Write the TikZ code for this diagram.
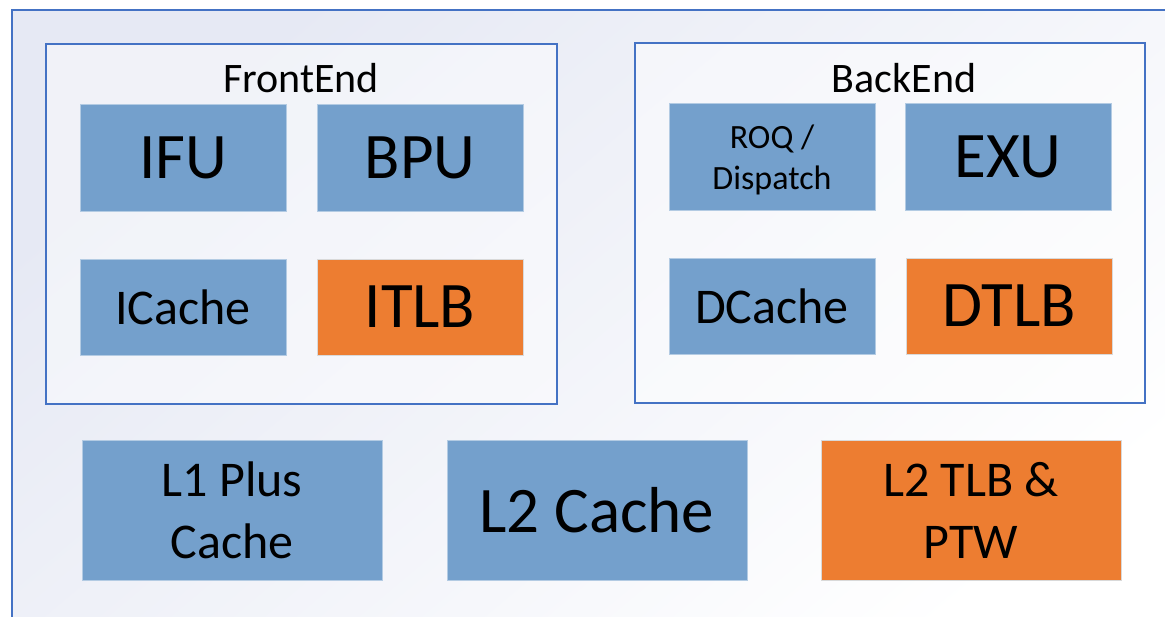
\documentclass[tikz,border=0pt]{standalone}
\usepackage{fontspec}
\setmainfont{Carlito}
\definecolor{unitblue}{HTML}{74A0CC}
\definecolor{unitorange}{HTML}{ED7D31}
\definecolor{frameblue}{HTML}{4472C4}
\definecolor{lav}{HTML}{E6E9F4}
\tikzset{
  unit/.style={rectangle, fill=unitblue, draw=unitblue!55!white, line width=0.6pt,
    inner sep=0pt, align=center, text=black},
  tlb/.style={unit, fill=unitorange, draw=black!15},
  bigtxt/.style={font=\fontsize{65}{78}\selectfont},
  midtxt/.style={font=\fontsize{50}{62}\selectfont},
  smalltxt/.style={font=\fontsize{34}{41}\selectfont},
  smallunit/.style={minimum width=206pt},
  group/.style={rectangle, draw=frameblue, line width=2.8pt, fill=white, fill opacity=0.45,
    inner sep=0pt},
  grouptitle/.style={font=\fontsize{42}{50}\selectfont, anchor=base, inner sep=0pt}
}
\begin{document}
\begin{tikzpicture}[x=1pt,y=-1pt]
\useasboundingbox (0,0) rectangle (1165,616);
\clip (0,0) rectangle (1165,616);
% slide background and outer border
\shade[top color=lav, bottom color=white, shading angle=40] (12,10) rectangle (1200,650);
\draw[frameblue, line width=2.8pt] (1200,10) -- (12,10) -- (12,650);

% front end group
\node[group, minimum width=511pt, minimum height=360pt] (front) at (301.5,224) {};
\node[grouptitle] (fronttitle) at (301,92) {FrontEnd};
\node[unit, bigtxt, smallunit, minimum height=107pt] (ifu) at (183,157.5) {IFU};
\node[unit, bigtxt, smallunit, minimum height=107pt] (bpu) at (420,157.5) {BPU};
\node[unit, midtxt, smallunit, minimum height=96pt] (icache) at (183,307) {ICache};
\node[tlb, bigtxt, smallunit, minimum height=96pt] (itlb) at (420,307) {ITLB};

% back end group
\node[group, minimum width=510pt, minimum height=360pt] (back) at (890,223) {};
\node[grouptitle] (backtitle) at (904,92) {BackEnd};
\node[unit, smallunit, minimum height=107pt] (roq) at (772,156.5) {};
\node[smalltxt, align=center, inner sep=0pt] (roqtext) at (772,160) {ROQ /\\Dispatch};
\node[unit, bigtxt, smallunit, minimum height=107pt] (exu) at (1008,156.5) {EXU};
\node[unit, midtxt, smallunit, minimum height=96pt] (dcache) at (772,306) {DCache};
\node[tlb, bigtxt, smallunit, minimum height=96pt] (dtlb) at (1009,306) {DTLB};

% shared memory units
\node[unit, midtxt, minimum width=300pt, minimum height=140pt] (l1plus) at (232,510) {L1 Plus\\Cache};
\node[unit, bigtxt, minimum width=300pt, minimum height=140pt] (l2) at (597,510) {L2 Cache};
\node[tlb, midtxt, minimum width=300pt, minimum height=140pt] (l2tlb) at (971,510) {L2 TLB \&\\PTW};
\end{tikzpicture}
\end{document}
